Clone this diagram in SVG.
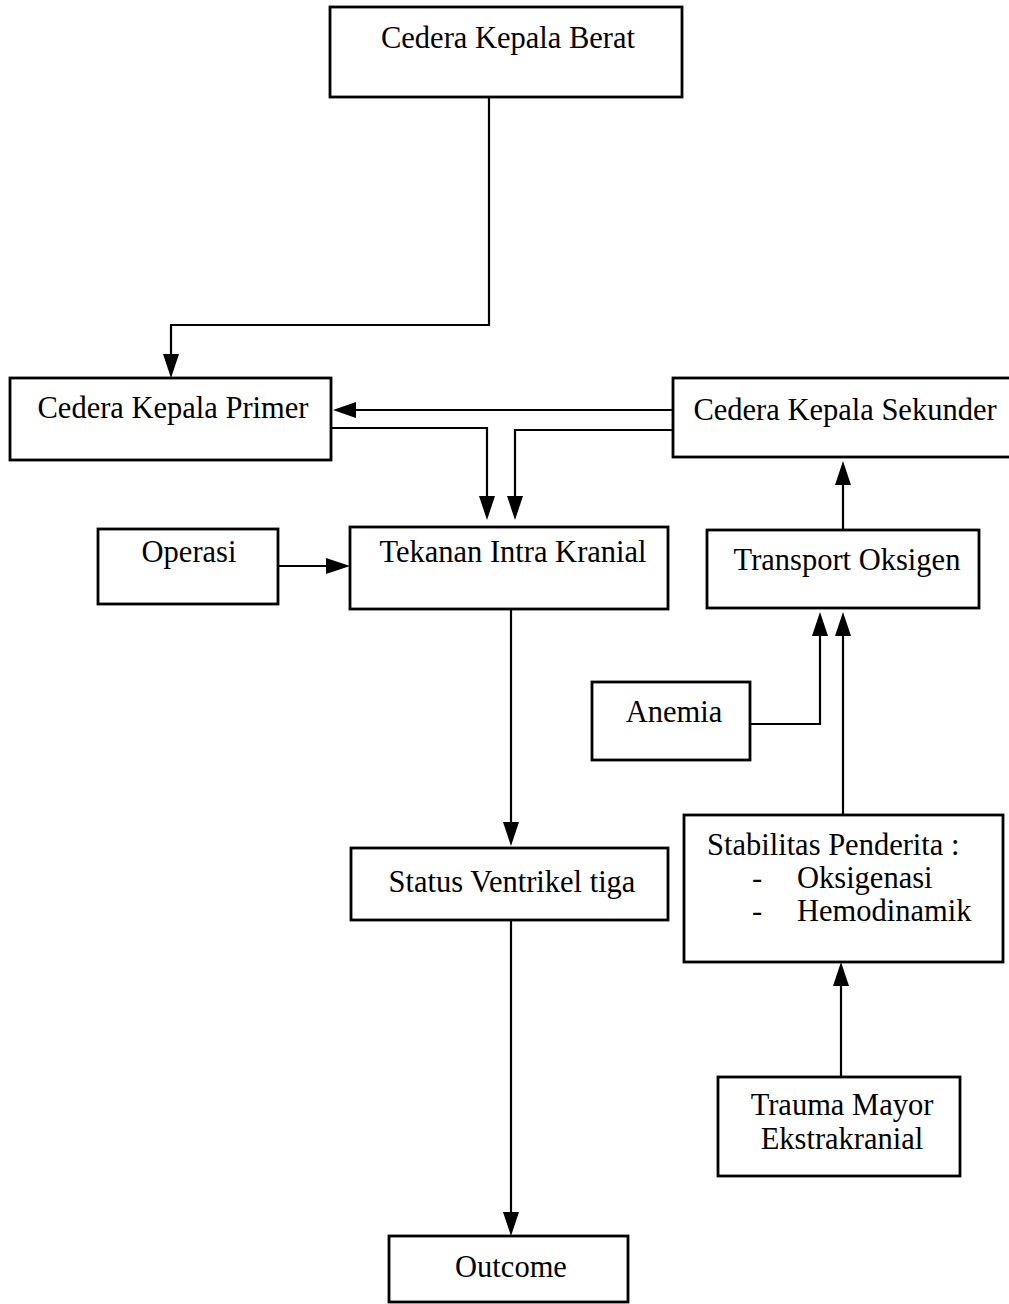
<svg xmlns="http://www.w3.org/2000/svg" width="1009" height="1304" viewBox="0 0 1009 1304">
<style>
.box{fill:#fff;stroke:#000;stroke-width:2.8}
.t{font-family:"Liberation Serif","Times New Roman",serif;font-size:30.5px;fill:#000}
.m{text-anchor:middle}
.ln{fill:none;stroke:#000;stroke-width:2.2}
.ah{fill:#000}
</style>
<rect width="1009" height="1304" fill="#fff"/>
<g id="connectors">
<path class="ln" d="M489,97 V325 H171 V354"/>
<path class="ah" d="M163,354 L179,354 L171,378 Z"/>
<path class="ln" d="M673,410 H356"/>
<path class="ah" d="M356,402 L356,418 L333,410 Z"/>
<path class="ln" d="M331,428 H487 V496"/>
<path class="ah" d="M479,496 L495,496 L487,520 Z"/>
<path class="ln" d="M673,430 H515 V496"/>
<path class="ah" d="M507,496 L523,496 L515,520 Z"/>
<path class="ln" d="M278,566 H326"/>
<path class="ah" d="M326,558 L326,574 L350,566 Z"/>
<path class="ln" d="M511,609 V822"/>
<path class="ah" d="M503,822 L519,822 L511,846 Z"/>
<path class="ln" d="M511,920 V1212"/>
<path class="ah" d="M503,1212 L519,1212 L511,1236 Z"/>
<path class="ln" d="M843,530 V485"/>
<path class="ah" d="M835,485 L851,485 L843,461 Z"/>
<path class="ln" d="M750,724 H820 V636"/>
<path class="ah" d="M812,636 L828,636 L820,612 Z"/>
<path class="ln" d="M843,815 V636"/>
<path class="ah" d="M835,636 L851,636 L843,612 Z"/>
<path class="ln" d="M841,1077 V986"/>
<path class="ah" d="M833,986 L849,986 L841,962 Z"/>
</g>
<g id="berat"><rect class="box" x="330" y="7" width="352" height="90"/><text class="t m" x="508" y="48">Cedera Kepala Berat</text></g>
<g id="primer"><rect class="box" x="10" y="378" width="321" height="82"/><text class="t m" x="173" y="418">Cedera Kepala Primer</text></g>
<g id="sekunder"><rect class="box" x="673" y="378" width="340" height="79"/><text class="t m" x="845" y="420">Cedera Kepala Sekunder</text></g>
<g id="operasi"><rect class="box" x="98" y="529" width="180" height="75"/><text class="t m" x="189" y="562">Operasi</text></g>
<g id="tekanan"><rect class="box" x="350" y="527" width="318" height="82"/><text class="t m" x="513" y="562">Tekanan Intra Kranial</text></g>
<g id="transport"><rect class="box" x="707" y="530" width="272" height="78"/><text class="t m" x="847" y="570">Transport Oksigen</text></g>
<g id="anemia"><rect class="box" x="592" y="682" width="158" height="78"/><text class="t m" x="674" y="722">Anemia</text></g>
<g id="status"><rect class="box" x="351" y="848" width="317" height="72"/><text class="t m" x="512" y="892">Status Ventrikel tiga</text></g>
<g id="stabilitas"><rect class="box" x="684" y="815" width="319" height="147"/>
<text class="t" x="707" y="855">Stabilitas Penderita :</text>
<text class="t" x="752" y="888">-</text><text class="t" x="797" y="888">Oksigenasi</text>
<text class="t" x="752" y="921">-</text><text class="t" x="797" y="921">Hemodinamik</text></g>
<g id="trauma"><rect class="box" x="718" y="1077" width="242" height="99"/><text class="t m" x="842" y="1115">Trauma Mayor</text><text class="t m" x="842" y="1149">Ekstrakranial</text></g>
<g id="outcome"><rect class="box" x="389" y="1236" width="239" height="66"/><text class="t m" x="511" y="1277">Outcome</text></g>
</svg>
